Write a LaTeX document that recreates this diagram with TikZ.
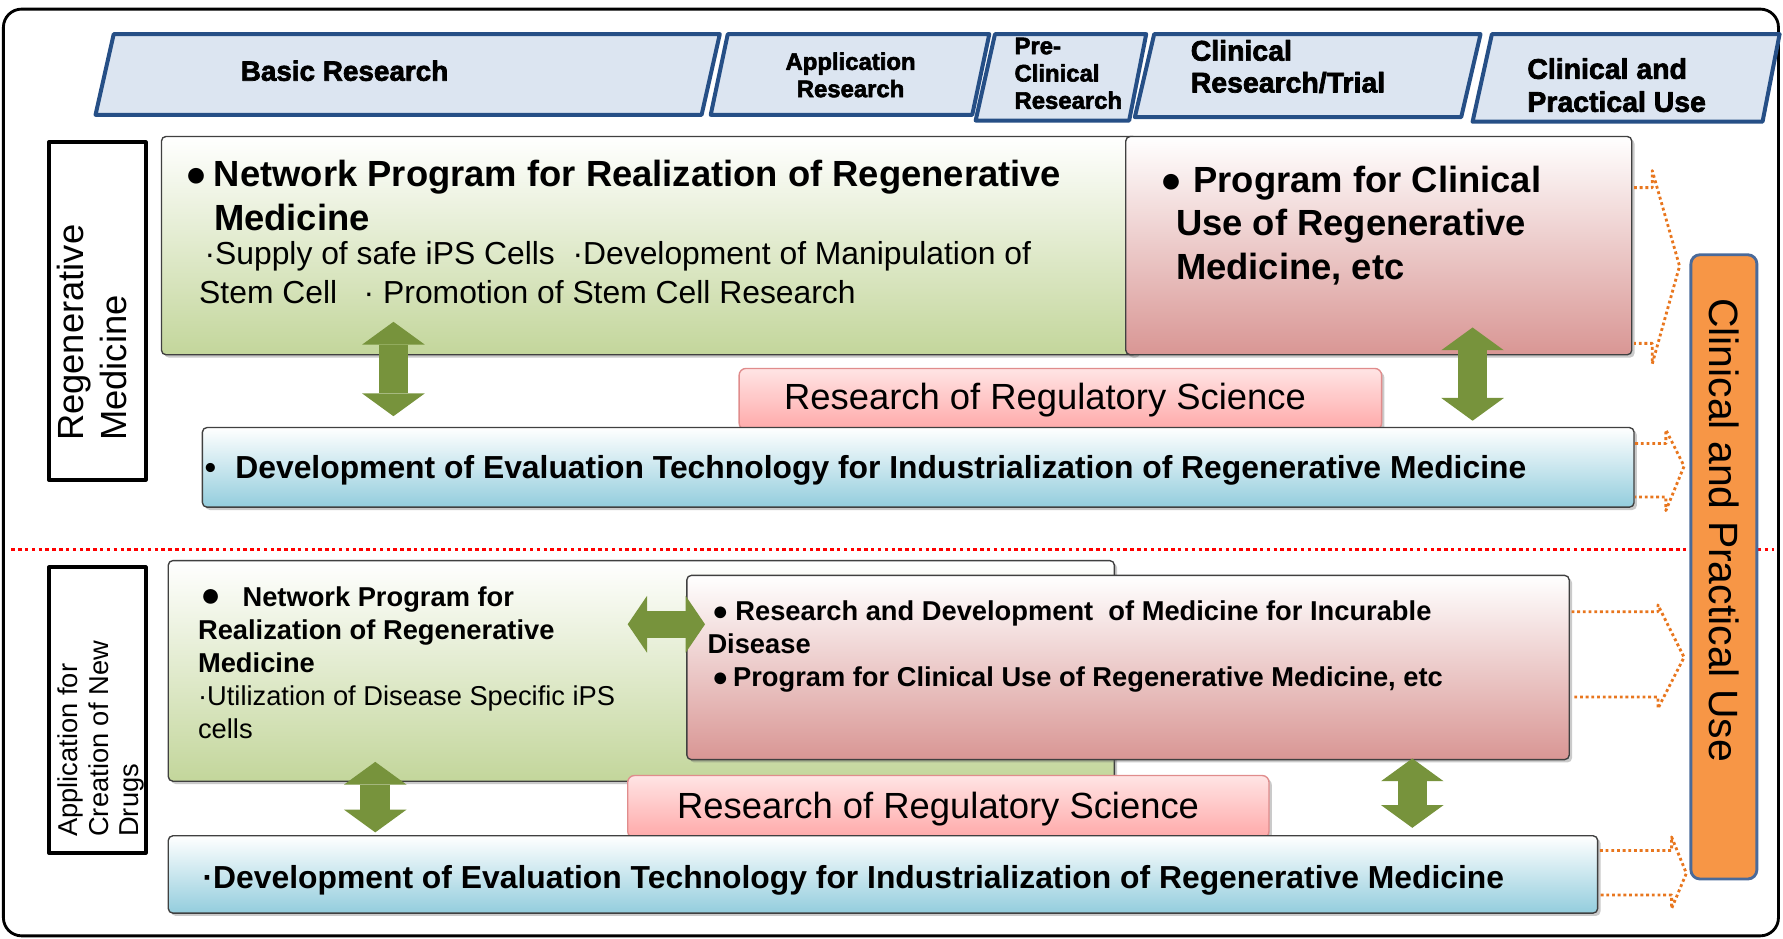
\documentclass[tikz,border=0pt]{standalone}
\usepackage{fontspec}
\setmainfont{Liberation Sans}
\newfontfamily\hdrfont{Liberation Sans Bold}[FakeBold=2.5]
\usetikzlibrary{arrows.meta,fit,shadows}
\newcommand\setfs[2]{\fontsize{#1}{#2}\selectfont}

\definecolor{hdrline}{HTML}{264F86}
\definecolor{hdrfill}{HTML}{DCE5F1}
\definecolor{leaf}{HTML}{C3D69B}
\definecolor{rose}{HTML}{D99694}
\definecolor{sky}{HTML}{93CDDD}
\definecolor{regtop}{HTML}{FFE4E4}
\definecolor{regbot}{HTML}{FFA9A9}
\definecolor{regline}{HTML}{E08C8C}
\definecolor{moss}{HTML}{77933C}
\definecolor{amber}{HTML}{F79646}
\definecolor{amberdot}{HTML}{E8761E}
\definecolor{slate}{HTML}{4A6A9A}

\tikzset{
  hdr/.style={draw=hdrline, fill=hdrfill, line width=3.5pt},
  hdrtxt/.style 2 args={inner sep=0pt, align=left, font=\hdrfont\setfs{#1}{#2}},
  txt/.style 2 args={inner sep=0pt, align=left, font=\setfs{#1}{#2}},
  btxt/.style 2 args={inner sep=0pt, align=left, font=\bfseries\setfs{#1}{#2}},
  card/.style={draw=black!75, line width=1.2pt, rounded corners=4pt, inner sep=0pt,
    drop shadow={shadow xshift=2.5pt, shadow yshift=-2.5pt, opacity=0.35, fill=black!60}},
  greencard/.style={card, top color=white, bottom color=leaf},
  pinkcard/.style={card, top color=white, bottom color=rose},
  bluecard/.style={card, top color=white, bottom color=sky},
  regcard/.style={card, draw=regline, top color=regtop, bottom color=regbot, rounded corners=6pt},
  sidebox/.style={draw=black, line width=3.5pt, fill=white, inner sep=0pt},
  usebox/.style={draw=slate, line width=2.5pt, fill=amber, rounded corners=8pt, inner sep=0pt},
  both/.style={moss, line width=26pt,
    {Triangle[width=55pt,length=20pt,line width=0pt]}-{Triangle[width=55pt,length=20pt,line width=0pt]}},
  onward/.style={amberdot, line width=2.5pt, dash pattern=on 2.5pt off 2.5pt},
}

\begin{document}
\begin{tikzpicture}[x=1pt, y=-1pt, line join=round]
\useasboundingbox (0,0) rectangle (1568,825);
\draw[line width=2.5pt, rounded corners=16pt] (3,8) rectangle (1564,823);

% stage headers
\foreach \a/\b/\c/\d/\e in {100/633/617/84/101, 640/870/855/625/101, 875/1008/993/858/106,
  1015/1302/1285/998/103, 1312/1565/1550/1295/107}
  \draw[hdr] (\a,30) -- (\b,30) -- (\c,\e) -- (\d,\e) -- cycle;
\node[hdrtxt={24.5}{28}, anchor=base] (hbasic) at (303,71) {Basic Research};
\node[hdrtxt={21}{24}, align=center, anchor=north] (happl) at (748,46) {Application\\Research};
\node[hdrtxt={21}{24}, anchor=north west] (hpre) at (892,33) {Pre-\\Clinical\\Research};
\node[hdrtxt={25}{28}, anchor=north west] (hclin) at (1047,35) {Clinical\\Research/Trial};
\node[hdrtxt={25}{29}, anchor=north west] (huse) at (1343,51) {Clinical and\\Practical Use};

% row labels
\node[sidebox, fit={(43,125) (128,422)}] (regen) {};
\node[txt={32}{38}, rotate=90, anchor=west] (regenlbl) at (81,388) {Regenerative\\Medicine};
\node[sidebox, fit={(43,499) (128,750)}] (drugs) {};
\node[txt={24}{27}, rotate=90, anchor=west] (drugslbl) at (89,736) {Application for\\Creation of New\\Drugs};

% regenerative medicine
\node[greencard, fit={(142,120) (1000,312)}] (gup) {};
\node[pinkcard, fit={(990,120) (1435,312)}] (pup) {};
\node[btxt={32}{38}, anchor=north west] (gupttl) at (188,141)
  {\llap{●\hspace{6pt}}Network Program for Realization of Regenerative\\Medicine};
\node[txt={28}{34}, anchor=north west] (gupsub) at (175,212)
  {\,·Supply of safe iPS Cells\ \ ·Development of Manipulation of\\Stem Cell\ \ \ ·\ Promotion of Stem Cell Research};
\node[btxt={32}{38}, anchor=north west] (pupttl) at (1020,146)
  {●\hspace{10pt}Program for Clinical\\\hspace*{14pt}Use of Regenerative\\\hspace*{14pt}Medicine, etc};
\node[regcard, fit={(650,324) (1215,378)}] (rsup) {};
\node[txt={32}{38}, anchor=base] (rsuptxt) at (919,360) {Research of Regulatory Science};
\node[bluecard, fit={(178,376) (1437,446)}] (bup) {};
\node[btxt={28}{32}, anchor=base west] (buptxt) at (180,421)
  {•\hspace{17pt}Development of Evaluation Technology for Industrialization of Regenerative Medicine};
\path (346,283) coordinate (ul1) (346,366) coordinate (ul2)
  (1295,288) coordinate (ur1) (1295,370) coordinate (ur2);
\foreach \p/\q in {ul1/ul2, ur1/ur2}
  \draw[both] (\p) -- (\q);

\draw[red, line width=3pt, dash pattern=on 3pt off 3pt] (10,483) -- (1560,483);

% new drugs
\node[greencard, fit={(148,493) (980,687)}] (glo) {};
\node[btxt={24}{29}, anchor=north west] (glotxt) at (174,516)
  {\hspace*{2pt}{\setfs{30}{29}●}\hspace{19pt}Network Program for\\Realization of Regenerative\\Medicine\\
   {\mdseries·Utilization of Disease Specific iPS}\\{\mdseries cells}};
\node[pinkcard, fit={(604,506) (1380,668)}] (plo) {};
\node[btxt={24}{29}, anchor=north west] (plotxt) at (622,528)
  {\hspace*{4pt}●\hspace{6pt}Research and Development\ \ of Medicine for Incurable\\Disease\\
   \hspace*{4pt}●\hspace{4pt}Program for Clinical Use of Regenerative Medicine, etc};
\path (552,549) coordinate (mh1) (620,549) coordinate (mh2);
\draw[both, line width=24pt,
  {Triangle[width=50pt,length=17pt,line width=0pt]}-{Triangle[width=50pt,length=17pt,line width=0pt]}] (mh1) -- (mh2);
\node[regcard, fit={(552,682) (1116,737)}] (rslo) {};
\node[txt={32}{38}, anchor=base] (rslotxt) at (825,720) {Research of Regulatory Science};
\node[bluecard, fit={(148,735) (1405,803)}] (blo) {};
\node[btxt={28}{32}, anchor=base west] (blotxt) at (178,781)
  {·Development of Evaluation Technology for Industrialization of Regenerative Medicine};
\path (330,670) coordinate (ll1) (330,732) coordinate (ll2)
  (1242,667) coordinate (lr1) (1242,728) coordinate (lr2);
\foreach \p/\q in {ll1/ll2, lr1/lr2}
  \draw[both] (\p) -- (\q);

% dotted arrows towards practical use
\foreach \xs/\xn/\xt/\ya/\yb/\yc/\yd/\ym in {1437/1453/1477/150/165/302/320/234,
  1438/1465/1481/378/390/437/449/410, 1382/1458/1481/532/538/613/623/578,
  1407/1470/1483/736/748/787/799/768}
  \draw[onward] (\xs,\yb) -- (\xn,\yb) -- (\xn,\ya) -- (\xt,\ym) -- (\xn,\yd) -- (\xn,\yc) -- (\xs,\yc);

\node[usebox, fit={(1487,224) (1545,773)}] (use) {};
\node[txt={36}{40}, rotate=-90, anchor=base west] (usetxt) at (1503,262) {Clinical and Practical Use};
\end{tikzpicture}
\end{document}
